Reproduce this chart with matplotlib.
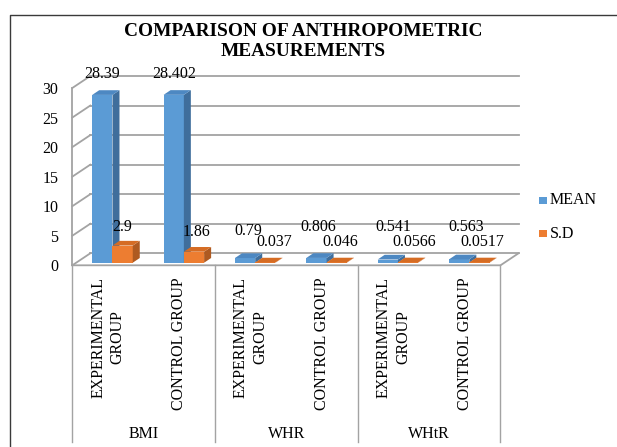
import matplotlib
matplotlib.use('Agg')
import matplotlib.pyplot as plt
import matplotlib.transforms as mtransforms
from matplotlib.patches import Polygon, Rectangle
from matplotlib.lines import Line2D

# ---------------- data ----------------
groups = ['BMI', 'WHR', 'WHtR']
subgroups = ['EXPERIMENTAL\nGROUP', 'CONTROL GROUP']
mean_vals = [28.39, 28.402, 0.79, 0.806, 0.541, 0.563]
sd_vals = [2.9, 1.86, 0.037, 0.046, 0.0566, 0.0517]
mean_labels = ['28.39', '28.402', '0.79', '0.806', '0.541', '0.563']
sd_labels = ['2.9', '1.86', '0.037', '0.046', '0.0566', '0.0517']
y_ticks = [0, 5, 10, 15, 20, 25, 30]
series_names = ['MEAN', 'S.D']
title_lines = ['COMPARISON OF ANTHROPOMETRIC', 'MEASUREMENTS']

# ---------------- style ----------------
plt.rcParams['font.family'] = ['Liberation Serif', 'DejaVu Serif']
FS = 11.5
W, H = 617, 447
BLUE, BLUE_TOP, BLUE_SIDE = '#5B9BD5', '#4D88C2', '#3F6E9C'
ORANGE, ORANGE_TOP, ORANGE_SIDE = '#ED7D31', '#D56C24', '#AE5A21'
GRID = '#A3A3A3'
WDX, WDY = 18, 12          # wall depth (pixels)
BOX, BOY = 3.5, 2.6        # bar plane offset behind the front (pixels)
BDX, BDY = 7, 4.7          # bar depth (pixels)
BAR_START, BAR_W = 0.23, 0.284
# label nudges (pixels) relative to bar top centre
mean_nudge = [(0, 21), (0, 21), (3, 27.5), (2, 31), (5.5, 32.5), (7, 32.5)]
sd_nudge = [(0, 19), (3, 20), (9, 20.5), (3.5, 20.5), (6, 20.5), (3, 20.5)]

fig = plt.figure(figsize=(W / 100, H / 100), dpi=100)
ax_left, ax_right, ax_y0, ax_y30 = 72.3, 500.5, 265.3, 88.0
ax = fig.add_axes([ax_left / W, (H - ax_y0) / H, (ax_right - ax_left) / W, (ax_y0 - ax_y30) / H])
n = len(mean_vals)
ax.set_xlim(0, n)
ax.set_ylim(0, 30)
for s in ax.spines.values():
    s.set_visible(False)
ax.patch.set_alpha(0)
sx = n / (ax_right - ax_left)
sy = 30 / (ax_y0 - ax_y30)

wdx, wdy = WDX * sx, WDY * sy
# back wall gridlines + left side wall
for v in y_ticks:
    ax.plot([wdx, n + wdx], [v + wdy, v + wdy], color=GRID, lw=1.3, clip_on=False, zorder=1)
    ax.plot([0, wdx], [v, v + wdy], color=GRID, lw=1.3, clip_on=False, zorder=1)
ax.plot([0, 0], [0, 30], color=GRID, lw=1.3, clip_on=False, zorder=1)
# floor
ax.plot([0, n, n + wdx], [0, 0, wdy], color=GRID, lw=1.3, clip_on=False, zorder=1)

# bars
bar_trans = mtransforms.offset_copy(ax.transData, fig=fig, x=BOX, y=BOY, units='dots')
bdx, bdy = BDX * sx, BDY * sy
xb = [i + BAR_START for i in range(n)]
xo = [i + BAR_START + BAR_W for i in range(n)]


def draw_series(xs, vals, front, top, side, z):
    ax.bar(xs, vals, width=BAR_W, align='edge', color=front, linewidth=0,
           transform=bar_trans, clip_on=False, zorder=z)
    for x, v in zip(xs, vals):
        ax.add_patch(Polygon([(x + BAR_W, 0), (x + BAR_W + bdx, bdy), (x + BAR_W + bdx, v + bdy), (x + BAR_W, v)],
                             closed=True, facecolor=side, lw=0, transform=bar_trans, clip_on=False, zorder=z))
        ax.add_patch(Polygon([(x, v), (x + BAR_W, v), (x + BAR_W + bdx, v + bdy), (x + bdx, v + bdy)],
                             closed=True, facecolor=top, lw=0, transform=bar_trans, clip_on=False, zorder=z))


draw_series(xb, mean_vals, BLUE, BLUE_TOP, BLUE_SIDE, 3)
draw_series(xo, sd_vals, ORANGE, ORANGE_TOP, ORANGE_SIDE, 4)

# value labels
for x, v, lab, (dx, dy) in zip(xb, mean_vals, mean_labels, mean_nudge):
    ax.annotate(lab, xy=(x + BAR_W / 2, v), xycoords=bar_trans, xytext=(dx, dy),
                textcoords='offset pixels', ha='center', va='center', fontsize=FS, zorder=6,
                annotation_clip=False)
for x, v, lab, (dx, dy) in zip(xo, sd_vals, sd_labels, sd_nudge):
    ax.annotate(lab, xy=(x + BAR_W / 2, v), xycoords=bar_trans, xytext=(dx, dy),
                textcoords='offset pixels', ha='center', va='center', fontsize=FS, zorder=6,
                annotation_clip=False)

# y axis ticks
ax.set_yticks(y_ticks)
ax.set_yticklabels([str(t) for t in y_ticks], fontsize=FS)
ax.tick_params(axis='y', length=0, pad=10)
ax.set_xticks([])

# category axis (multi-level)
bt = mtransforms.blended_transform_factory(ax.transData, fig.transFigure)
y_top = (H - ax_y0) / H
y_bot = (H - 442) / H
for k in range(0, n + 1, 2):
    ax.plot([k, k], [y_top, y_bot], color=GRID, lw=1.0, transform=bt, clip_on=False)
for i in range(n):
    ax.text(i + 0.5, (H - 277) / H, subgroups[i % 2], rotation=90, ha='center', va='top',
            multialignment='center', fontsize=FS, transform=bt, linespacing=1.3)
for g, name in enumerate(groups):
    ax.text(2 * g + 1, (H - 437.7) / H, name, ha='center', va='baseline', fontsize=FS, transform=bt)

# title
fig.text(303 / W, 1 - 36.5 / H, title_lines[0], ha='center', va='baseline', fontsize=13.9, fontweight='bold')
fig.text(303 / W, 1 - 56 / H, title_lines[1], ha='center', va='baseline', fontsize=13.9, fontweight='bold')

# legend
for name, col, yc in zip(series_names, [BLUE, ORANGE], [200.5, 233.5]):
    fig.add_artist(Rectangle((539.3 / W, 1 - (yc + 3.5) / H), 8 / W, 7 / H, transform=fig.transFigure,
                             facecolor=col, lw=0))
    fig.text(550 / W, 1 - yc / H, name, ha='left', va='center', fontsize=FS)

# chart border
fig.add_artist(Line2D([10 / W, 10 / W, 1], [0, 1 - 15 / H, 1 - 15 / H], transform=fig.transFigure,
                      color='#3A3A3A', lw=1.0))

fig.savefig('out.png', dpi=100)
